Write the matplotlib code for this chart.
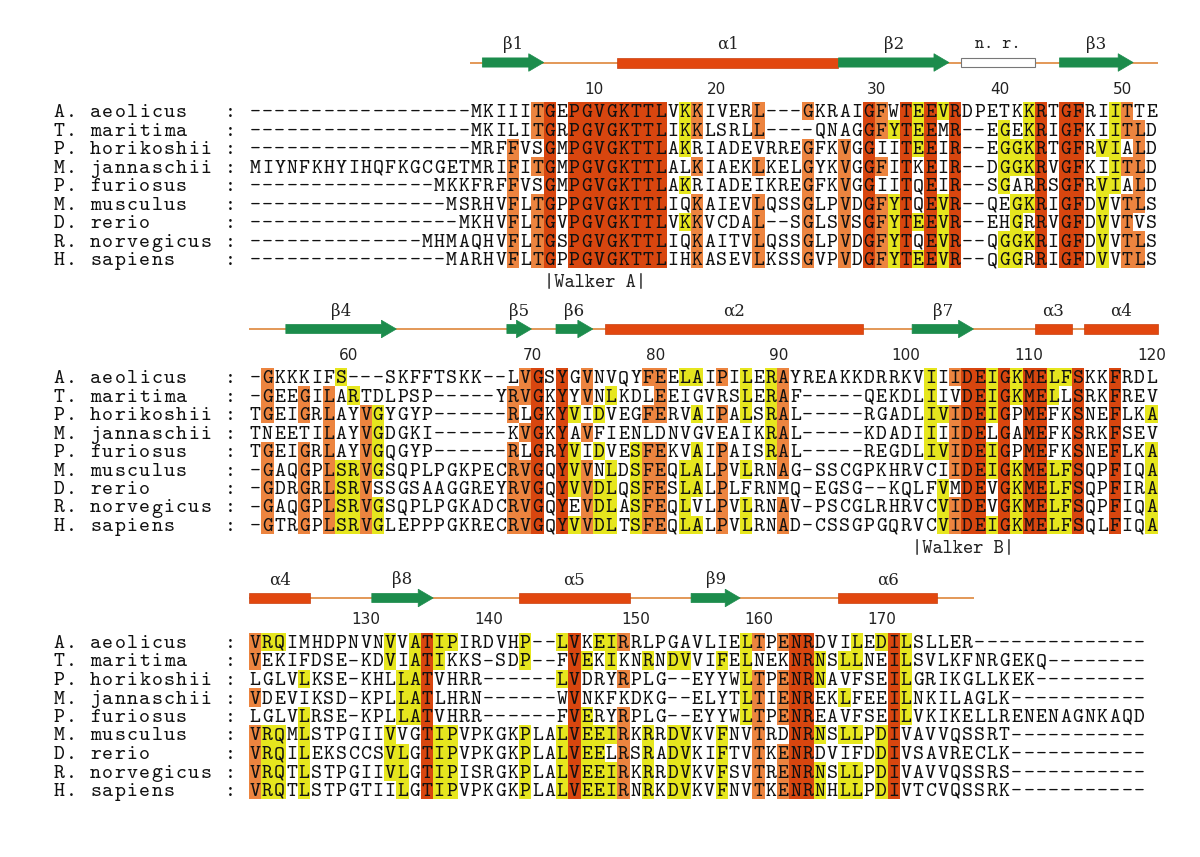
import matplotlib
matplotlib.use("Agg")
import matplotlib.pyplot as plt
from matplotlib.patches import Rectangle, Polygon
from collections import Counter

# ---------------- data ----------------
species = ["A. aeolicus", "T. maritima", "P. horikoshii", "M. jannaschii", "P. furiosus",
           "M. musculus", "D. rerio", "R. norvegicus", "H. sapiens"]

block1 = [
    "------------------MKIIITGEPGVGKTTLVKKIVERL---GKRAIGFWTEEVRDPETKKRTGFRIITTE",
    "------------------MKILITGRPGVGKTTLIKKLSRLL----QNAGGFYTEEMR--EGEKRIGFKIITLD",
    "------------------MRFFVSGMPGVGKTTLAKRIADEVRREGFKVGGIITEEIR--EGGKRTGFRVIALD",
    "MIYNFKHYIHQFKGCGETMRIFITGMPGVGKTTLALKIAEKLKELGYKVGGFITKEIR--DGGKRVGFKIITLD",
    "---------------MKKFRFFVSGMPGVGKTTLAKRIADEIKREGFKVGGIITQEIR--SGARRSGFRVIALD",
    "----------------MSRHVFLTGPPGVGKTTLIQKAIEVLQSSGLPVDGFYTQEVR--QEGKRIGFDVVTLS",
    "-----------------MKHVFLTGVPGVGKTTLVKKVCDAL--SGLSVSGFYTEEVR--EHGRRVGFDVVTVS",
    "--------------MHMAQHVFLTGSPGVGKTTLIQKAITVLQSSGLPVDGFYTQEVR--QGGKRIGFDVVTLS",
    "----------------MARHVFLTGPPGVGKTTLIHKASEVLKSSGVPVDGFYTEEVR--QGGRRIGFDVVTLS",
]
block2 = [
    "-GKKKIFS---SKFFTSKK--LVGSYGVNVQYFEELAIPILERAYREAKKDRRKVIIIDEIGKMELFSKKFRDL",
    "-GEEGILARTDLPSP-----YRVGKYYVNLKDLEEIGVRSLERAF-----QEKDLIIVDEIGKMELLSRKFREV",
    "TGEIGRLAYVGYGYP------RLGKYVIDVEGFERVAIPALSRAL-----RGADLIVIDEIGPMEFKSNEFLKA",
    "TNEETILAYVGDGKI------KVGKYAVFIENLDNVGVEAIKRAL-----KDADIIIIDELGAMEFKSRKFSEV",
    "TGEIGRLAYVGQGYP------RLGRYVIDVESFEKVAIPAISRAL-----REGDLIVIDEIGPMEFKSNEFLKA",
    "-GAQGPLSRVGSQPLPGKPECRVGQYVVNLDSFEQLALPVLRNAG-SSCGPKHRVCIIDEIGKMELFSQPFIQA",
    "-GDRGRLSRVSSGSAAGGREYRVGQYVVDLQSFESLALPLFRNMQ-EGSG--KQLFVMDEVGKMELFSQPFIRA",
    "-GAQGPLSRVGSQPLPGKADCRVGQYEVDLASFEQLVLPVLRNAV-PSCGLRHRVCVIDEVGKMELFSQPFIQA",
    "-GTRGPLSRVGLEPPPGKRECRVGQYVVDLTSFEQLALPVLRNAD-CSSGPGQRVCVIDEIGKMELFSQLFIQA",
]
block3 = [
    "VRQIMHDPNVNVVATIPIRDVHP--LVKEIRRLPGAVLIELTPENRDVILEDILSLLER--------------",
    "VEKIFDSE-KDVIATIKKS-SDP--FVEKIKNRNDVVIFELNEKNRNSLLNEILSVLKFNRGEKQ--------",
    "LGLVLKSE-KHLLATVHRR------LVDRYRPLG--EYYWLTPENRNAVFSEILGRIKGLLKEK---------",
    "VDEVIKSD-KPLLATLHRN------WVNKFKDKG--ELYTLTIENREKLFEEILNKILAGLK-----------",
    "LGLVLRSE-KPLLATVHRR------FVERYRPLG--EYYWLTPENREAVFSEILVKIKELLRENENAGNKAQD",
    "VRQMLSTPGIIVVGTIPVPKGKPLALVEEIRKRRDVKVFNVTRDNRNSLLPDIVAVVQSSRT-----------",
    "VRQILEKSCCSVLGTIPVPKGKPLALVEELRSRADVKIFTVTKENRDVIFDDIVSAVRECLK-----------",
    "VRQTLSTPGIIVLGTIPISRGKPLALVEEIRKRRDVKVFSVTRENRNSLLPDIVAVVQSSRS-----------",
    "VRQTLSTPGTIILGTIPVPKGKPLALVEEIRNRKDVKVFNVTKENRNHLLPDIVTCVQSSRK-----------",
]
blocks = [block1, block2, block3]

# secondary structure: (kind, label, first column, last column)
ss1 = [("E", "β1", 20, 24), ("H", "α1", 31, 48), ("E", "β2", 49, 57),
       ("N", "n. r.", 59, 64), ("E", "β3", 67, 72)]
ss2 = [("E", "β4", 4, 12), ("E", "β5", 22, 23), ("E", "β6", 26, 28),
       ("H", "α2", 30, 50), ("E", "β7", 55, 59), ("H", "α3", 65, 67), ("H", "α4", 69, 74)]
ss3 = [("H", "α4", 1, 5), ("E", "β8", 11, 15), ("H", "α5", 23, 31),
       ("E", "β9", 37, 40), ("H", "α6", 49, 56)]
ss_blocks = [ss1, ss2, ss3]
track_spans = [(19, 74), (1, 74), (1, 59)]
motifs = [(0, "|Walker A|", 25), (1, "|Walker B|", 55)]
numbering_row = 0

# ---------------- style / layout ----------------
W, H = 1200, 857
X0 = 249.0          # px of left edge of first alignment column
CW = 12.28          # column width px
RH = 18.5           # row height px
ROW1 = [111, 377, 642]
TRACK_Y = [62.5, 329, 598]
C_DARK = "#D8460F"
C_ORANGE = "#EC843F"
C_YELLOW = "#E6E61E"
C_GREEN = "#1C8C4C"
C_HELIX = "#E2470F"
C_LINE = "#E0904A"
MONO = "cmtt10"
SEQ_FS = 15.0

fig = plt.figure(figsize=(W / 100, H / 100), dpi=100)
ax = fig.add_axes([0, 0, 1, 1])
ax.set_xlim(-X0 / CW, (W - X0) / CW)
ax.set_ylim(H, 0)
ax.axis("off")

shade = {3: C_DARK, 2: C_ORANGE, 1: C_YELLOW}

resnum = 0
for b, block in enumerate(blocks):
    nrow = len(block)
    ncol = len(block[0])
    y1 = ROW1[b]
    # shading by column identity
    for j in range(ncol):
        col = [s[j] for s in block]
        cnt = Counter(ch for ch in col if ch != "-")
        if not cnt:
            continue
        res, n = cnt.most_common(1)[0]
        level = 3 if n == nrow else 2 if n >= 7 else 1 if n >= 5 else 0
        if level == 0:
            continue
        for i, ch in enumerate(col):
            if ch == res:
                ax.add_patch(Rectangle((j, y1 + i * RH - RH / 2), 1, RH,
                                       facecolor=shade[level], edgecolor="none",
                                       antialiased=False, zorder=1))
    # names and sequences
    for i, s in enumerate(block):
        y = y1 + i * RH + 6.0
        label = species[i].ljust(13) + " :"
        for k, ch in enumerate(label):
            if ch != " ":
                ax.text(k - 15.5, y, ch, ha="center", va="baseline",
                        family=MONO, fontsize=SEQ_FS, color="#111111", zorder=3)
        for j, ch in enumerate(s):
            ax.text(j + 0.5, y, ch, ha="center", va="baseline",
                    family=MONO, fontsize=SEQ_FS, color="#111111", zorder=3)
    # residue numbering from reference row
    for j, ch in enumerate(block[numbering_row]):
        if ch != "-":
            resnum += 1
            if resnum % 10 == 0:
                ax.text(j + 4 / CW, y1 - 22, str(resnum), ha="left", va="center",
                        family="DejaVu Sans", fontsize=11, color="#222222", zorder=3)
    # secondary structure track
    ty = TRACK_Y[b]
    a, e = track_spans[b]
    ax.plot([a - 1, e], [ty, ty], color=C_LINE, lw=1.3, zorder=1,
            solid_capstyle="butt")
    for kind, lab, c0, c1 in ss_blocks[b]:
        x0, x1 = c0 - 1, c1
        if kind == "E":
            hl = 15 / CW
            hb, hh = 4.6, 8.8
            pts = [(x0, ty - hb), (x1 - hl, ty - hb), (x1 - hl, ty - hh), (x1, ty),
                   (x1 - hl, ty + hh), (x1 - hl, ty + hb), (x0, ty + hb)]
            ax.add_patch(Polygon(pts, closed=True, facecolor=C_GREEN,
                                 edgecolor=C_GREEN, lw=0.5, zorder=2))
        elif kind == "H":
            ax.add_patch(Rectangle((x0, ty - 5), x1 - x0, 10, facecolor=C_HELIX,
                                   edgecolor="#C8400E", lw=0.5, zorder=2))
        else:
            ax.add_patch(Rectangle((x0, ty - 4.5), x1 - x0, 9, facecolor="white",
                                   edgecolor="#777777", lw=0.8, zorder=2))
        if kind == "N":
            ax.text((x0 + x1) / 2, ty - 18, lab, ha="center", va="center",
                    family=MONO, fontsize=12.5, color="#222222")
        else:
            ax.text((x0 + x1) / 2, ty - 18, lab, ha="center", va="center",
                    family="DejaVu Serif", fontsize=12, color="#222222")

# motif annotations
for b, lab, c0 in motifs:
    ax.text(c0 - 1, ROW1[b] + 8 * RH + 24, lab, ha="left", va="center",
            family=MONO, fontsize=14, color="#222222")

fig.savefig("out.png", dpi=100, facecolor="white")
